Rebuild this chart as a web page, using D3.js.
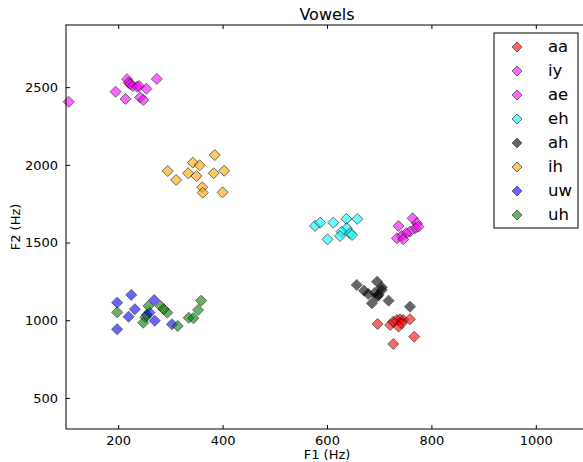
<!DOCTYPE html>
<html>
<head>
<meta charset="utf-8">
<script src="https://cdn.jsdelivr.net/npm/d3@7"></script>
<style>
  body { margin: 0; background: #fff; }
  text { font-family: "DejaVu Sans", sans-serif; }
</style>
</head>
<body>
<div id="chart"></div>
<script>
// vowel series, [F1, F2] in Hz
var vowels = ["aa", "iy", "ae", "eh", "ah", "ih", "uw", "uh"];
var colors = ["#ff0000", "#ff00ff", "#ff00ff", "#00ffff", "#000000", "#ffa500", "#0000ff", "#008000"];

var aa = [[697, 976], [721, 969], [727, 991], [734, 1002], [740, 1006], [746, 1002],
          [737, 959], [759, 1006], [743, 980], [727, 847], [767, 894]];
var iy = [[105, 2406], [195, 2471], [214, 2424], [217, 2551], [220, 2529], [223, 2520],
          [228, 2507], [236, 2503], [240, 2507], [254, 2490], [242, 2435], [248, 2417], [274, 2553]];
var ae = [[737, 1607], [764, 1656], [772, 1624], [769, 1592], [759, 1570], [752, 1560],
          [743, 1542], [734, 1527], [746, 1521], [775, 1602]];
var eh = [[577, 1607], [587, 1628], [612, 1628], [637, 1652], [658, 1652], [638, 1592],
          [628, 1570], [644, 1560], [625, 1542], [601, 1521], [648, 1549]];
var ah = [[657, 1227], [671, 1190], [696, 1248], [705, 1212], [679, 1169], [692, 1177],
          [699, 1163], [686, 1109], [718, 1126], [705, 1195], [759, 1087], [696, 1152]];
var ih = [[295, 1960], [311, 1903], [343, 2014], [356, 1997], [334, 1946], [350, 1928],
          [385, 2063], [383, 1946], [403, 1962], [361, 1856], [362, 1821], [400, 1823]];
var uw = [[198, 1113], [225, 1163], [232, 1071], [220, 1023], [269, 1130], [260, 1049],
          [270, 997], [303, 974], [198, 942], [255, 1034]];
var uh = [[198, 1051], [258, 1092], [281, 1092], [294, 1049], [252, 1019], [248, 984],
          [314, 963], [335, 1016], [344, 1013], [353, 1066], [359, 1126], [287, 1071]];
var seriesData = [aa, iy, ae, eh, ah, ih, uw, uh];

var xTicks = [200, 400, 600, 800, 1000];
var yTicks = [500, 1000, 1500, 2000, 2500];

var W = 583, H = 462;
var margin = {top: 25, right: -5, bottom: 33, left: 66};
var width = W - margin.left - margin.right,
    height = H - margin.top - margin.bottom;

var svg = d3.select("#chart").append("svg")
    .attr("width", W)
    .attr("height", H)
    .style("display", "block");

var g = svg.append("g")
    .attr("transform", "translate(" + margin.left + "," + margin.top + ")");

var x = d3.scaleLinear().domain([100, 1100]).range([0, width]);
var y = d3.scaleLinear().domain([300, 2900]).range([height, 0]);

// diamond marker, matplotlib 'D'
var r = 5.5;
function diamond(px, py) {
    return "M" + px + "," + (py - r) + "L" + (px + r) + "," + py +
        "L" + px + "," + (py + r) + "L" + (px - r) + "," + py + "Z";
}

// points
seriesData.forEach(function (pts, i) {
    g.append("g").selectAll("path")
        .data(pts)
        .enter()
        .append("path")
        .attr("d", function (d) { return diamond(x(d[0]), y(d[1])); })
        .attr("fill", colors[i])
        .attr("stroke", "#000")
        .attr("stroke-width", 1)
        .attr("opacity", 0.6);
});

// axes, ticks inward on all four sides
function styleAxis(sel) {
    sel.select(".domain").remove();
    sel.selectAll(".tick line").attr("stroke", "#000");
    sel.selectAll(".tick text").attr("font-size", 13).attr("fill", "#000")
        .attr("font-family", "DejaVu Sans, sans-serif");
}
g.append("g").attr("transform", "translate(0," + height + ")")
    .call(d3.axisBottom(x).tickValues(xTicks).tickSizeInner(-4).tickPadding(7).tickFormat(d3.format("d")))
    .call(styleAxis);
g.append("g")
    .call(d3.axisTop(x).tickValues(xTicks).tickSizeInner(-4).tickFormat(""))
    .call(styleAxis);
g.append("g")
    .call(d3.axisLeft(y).tickValues(yTicks).tickSizeInner(-4).tickPadding(8).tickFormat(d3.format("d")))
    .call(styleAxis);
g.append("g").attr("transform", "translate(" + width + ",0)")
    .call(d3.axisRight(y).tickValues(yTicks).tickSizeInner(-4).tickFormat(""))
    .call(styleAxis);

g.append("rect")
    .attr("width", width)
    .attr("height", height)
    .attr("fill", "none")
    .attr("stroke", "#000")
    .attr("stroke-width", 1);

// labels
svg.append("text")
    .attr("x", margin.left + width / 2)
    .attr("y", 20)
    .attr("text-anchor", "middle")
    .attr("font-size", 16)
    .text("Vowels");
svg.append("text")
    .attr("x", margin.left + width / 2)
    .attr("y", 459)
    .attr("text-anchor", "middle")
    .attr("font-size", 13)
    .text("F1 (Hz)");
svg.append("text")
    .attr("transform", "translate(20," + (margin.top + height / 2) + ") rotate(-90)")
    .attr("text-anchor", "middle")
    .attr("font-size", 13)
    .text("F2 (Hz)");

// legend
var legend = svg.append("g").attr("transform", "translate(494,33)");
legend.append("rect")
    .attr("width", 84)
    .attr("height", 195)
    .attr("fill", "#fff")
    .attr("stroke", "#000");
vowels.forEach(function (v, i) {
    var ly = 14 + i * 24;
    legend.append("path")
        .attr("d", "M23," + (ly - 5) + "L28," + ly + "L23," + (ly + 5) + "L18," + ly + "Z")
        .attr("fill", colors[i])
        .attr("stroke", "#000")
        .attr("opacity", 0.6);
    legend.append("text")
        .attr("x", 54)
        .attr("y", ly + 5)
        .attr("font-size", 16.5)
        .text(v);
});
</script>
</body>
</html>
